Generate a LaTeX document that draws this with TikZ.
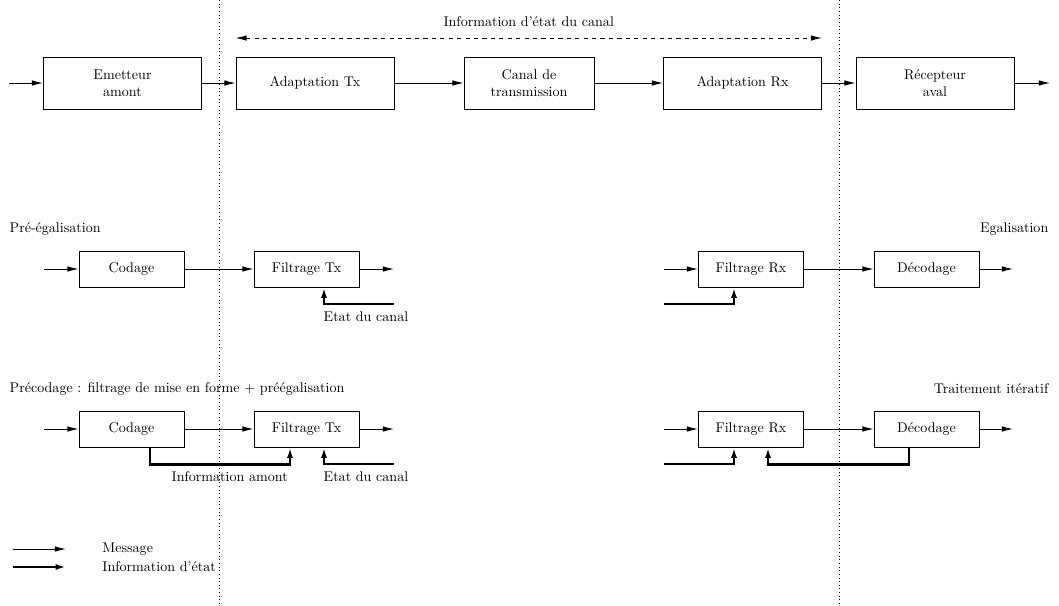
\documentclass[tikz,border=0pt]{standalone}
\usepackage{tikz}
\usetikzlibrary{arrows.meta}
\tikzset{
  ch diagram/.style={font=\normalsize, text=black, line join=miter},
  ch box/.style={draw, line width=0.7pt, minimum width=2.625cm,
    minimum height=0.9cm, inner sep=0pt, align=center},
  ch big box/.style={ch box, minimum width=3.95cm, minimum height=1.3cm},
  ch arrow/.style={-{Latex[length=2.8mm,width=1.4mm]}, line width=0.7pt},
  ch state/.style={-{Latex[length=2.6mm,width=1.5mm]}, line width=1.6pt},
  ch csi/.style={{Latex[length=2.8mm,width=1.4mm]}-{Latex[length=2.8mm,width=1.4mm]},
    dashed, line width=0.7pt},
  ch sep/.style={dotted, line width=0.6pt},
  ch label/.style={inner sep=1pt}
}
\begin{document}
\begin{tikzpicture}[ch diagram]
\useasboundingbox (0,0) rectangle (26.475,-15.125);
\draw[ch sep] (5.475,0) -- (5.475,-15.125);
\draw[ch sep] (20.975,0) -- (20.975,-15.125);
\node[ch big box] (emt) at (3.0625,-2.075) {Emetteur\\amont};
\node[ch big box] (atx) at (7.875,-2.075) {Adaptation Tx};
\node[ch big box, minimum width=3.25cm] (can) at (13.225,-2.075) {Canal de\\transmission};
\node[ch big box] (arx) at (18.5625,-2.075) {Adaptation Rx};
\node[ch big box] (rec) at (23.375,-2.075) {R\'ecepteur\\aval};
\coordinate (msgin) at (0.225,-2.075);
\coordinate (msgout) at (26.25,-2.075);
\coordinate (csil) at (atx.west |- 0,-0.95);
\coordinate (csir) at (arx.east |- 0,-0.95);
\draw[ch arrow] (msgin) -- (emt);
\draw[ch arrow] (emt) -- (atx);
\draw[ch arrow] (atx) -- (can);
\draw[ch arrow] (can) -- (arx);
\draw[ch arrow] (arx) -- (rec);
\draw[ch arrow] (rec) -- (msgout);
\draw[ch csi] (csil) -- node[ch label, above=7pt] (csit) {Information d'\'etat du canal} (csir);
\foreach \r/\y/\lname/\rname in {a/-6.725/{Pr\'e-\'egalisation}/{Egalisation},
    b/-10.725/{Pr\'ecodage : filtrage de mise en forme + pr\'e\'egalisation}/{Traitement it\'eratif}}{
  \node[ch label, anchor=west] (ttl\r) at (0.2,\y+1.0) {\lname};
  \node[ch label, anchor=east] (ttr\r) at (26.25,\y+1.0) {\rname};
  \node[ch box] (cod\r) at (3.2875,\y) {Codage};
  \node[ch box] (ftx\r) at (7.6625,\y) {Filtrage Tx};
  \node[ch box] (frx\r) at (18.775,\y) {Filtrage Rx};
  \node[ch box] (dec\r) at (23.1625,\y) {D\'ecodage};
  \coordinate (txin\r) at (1.1,\y);
  \coordinate (txout\r) at (9.85,\y);
  \coordinate (rxin\r) at (16.6,\y);
  \coordinate (rxout\r) at (25.325,\y);
  \coordinate (csitx\r) at (9.85,\y-0.875);
  \coordinate (csirx\r) at (16.6,\y-0.875);
  \draw[ch arrow] (txin\r) -- (cod\r);
  \draw[ch arrow] (cod\r) -- (ftx\r);
  \draw[ch arrow] (ftx\r) -- (txout\r);
  \draw[ch arrow] (rxin\r) -- (frx\r);
  \draw[ch arrow] (frx\r) -- (dec\r);
  \draw[ch arrow] (dec\r) -- (rxout\r);
  \draw[ch state] (csitx\r) -| ([xshift=0.4375cm]ftx\r.south);
  \draw[ch state] (csirx\r) -| ([xshift=-0.425cm]frx\r.south);
  \node[ch label, anchor=west] (etat\r) at (8.05,\y-1.2) {Etat du canal};
}
\draw[ch state] ([xshift=0.4625cm]codb.south) -- ++(0,-0.425) -| ([xshift=-0.4125cm]ftxb.south);
\node[ch label, anchor=east] (amont) at (7.235,-11.925) {Information amont};
\draw[ch state] ([xshift=-0.4375cm]decb.south) -- ++(0,-0.425) -| ([xshift=0.425cm]frxb.south);
\coordinate (legma) at (0.325,-13.725);
\coordinate (legmb) at (1.65,-13.725);
\coordinate (legsa) at (0.325,-14.175);
\coordinate (legsb) at (1.65,-14.175);
\draw[ch arrow] (legma) -- (legmb);
\draw[ch state] (legsa) -- (legsb);
\node[ch label, anchor=west] (legm) at (2.52,-13.725) {Message};
\node[ch label, anchor=west] (legs) at (2.52,-14.175) {Information d'\'etat};
\end{tikzpicture}
\end{document}
